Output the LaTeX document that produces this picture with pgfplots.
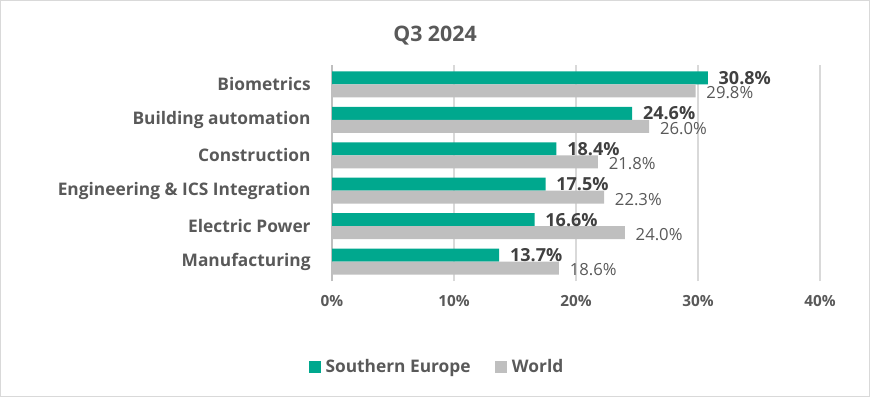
\documentclass[border=0pt]{standalone}
\usepackage{pgfplots}
\pgfplotsset{compat=1.18}
\usepackage{fontspec}
\setmainfont{Open Sans}
\definecolor{teal1}{HTML}{00A88E}
\definecolor{gray1}{HTML}{BFBFBF}
\definecolor{grid1}{HTML}{D9D9D9}
\definecolor{txt1}{HTML}{595959}
\definecolor{txt2}{HTML}{404040}
\begin{document}
\begin{tikzpicture}
\useasboundingbox (0pt,0pt) rectangle (652.5pt,297.75pt);
\draw[grid1] (0.4pt,0.4pt) rectangle (652.1pt,297.35pt);
\node[font=\bfseries\fontsize{16}{18}\selectfont, text=txt1] at (326.25pt,271pt) {Q3 2024};
\begin{axis}[
  at={(249pt,87pt)}, anchor=south west,
  scale only axis, width=366pt, height=162pt,
  xmin=0, xmax=40, ymin=-0.55, ymax=5.55,
  xbar, bar width=9.75pt,
  axis line style={draw=none},
  axis x line*=bottom, axis y line*=left,
  extra x ticks={0}, extra x tick labels={},
  extra x tick style={grid style={gray1, line width=0.8pt}},
  xtick={0,10,20,30,40},
  xticklabels={0\%,10\%,20\%,30\%,40\%},
  xmajorgrids, grid style={grid1, line width=0.8pt},
  major tick length=0pt,
  ytick={0,1,2,3,4,5},
  yticklabels={Manufacturing,Electric Power,Engineering \& ICS Integration,Construction,Building automation,Biometrics},
  yticklabel style={font=\bfseries\fontsize{13}{15}\selectfont, text=txt1, xshift=-12.5pt},
  xticklabel style={font=\bfseries\fontsize{11.5}{13}\selectfont, text=txt1, yshift=-7pt},
  /pgf/number format/assume math mode=true,
  nodes near coords={\pgfmathprintnumber[fixed,precision=1,fixed zerofill]{\pgfplotspointmeta}\%},
  legend style={at={(0.218,-0.40)}, anchor=center, draw=none, fill=none,
    legend columns=2, font=\bfseries\fontsize{13}{15}\selectfont, text=txt1,
    /tikz/every even column/.append style={column sep=15pt},
    nodes={inner xsep=3.5pt}},
  legend image code/.code={\fill[#1] (0pt,-4.5pt) rectangle (9pt,4.5pt);},
]
\addplot[fill=teal1, draw=none, bar shift=4.875pt,
  every node near coord/.append style={font=\bfseries\fontsize{13.5}{15}\selectfont, text=txt2, inner sep=0pt, xshift=8pt}]
  coordinates {(13.7,0) (16.6,1) (17.5,2) (18.4,3) (24.6,4) (30.8,5)};
\addlegendentry{Southern Europe}
\addplot[fill=gray1, draw=none, bar shift=-4.875pt,
  every node near coord/.append style={font=\fontsize{12.5}{14}\selectfont, text=txt1, inner sep=0pt, xshift=8pt, yshift=-1.5pt}]
  coordinates {(18.6,0) (24.0,1) (22.3,2) (21.8,3) (26.0,4) (29.8,5)};
\addlegendentry{World}
\end{axis}
\end{tikzpicture}
\end{document}
